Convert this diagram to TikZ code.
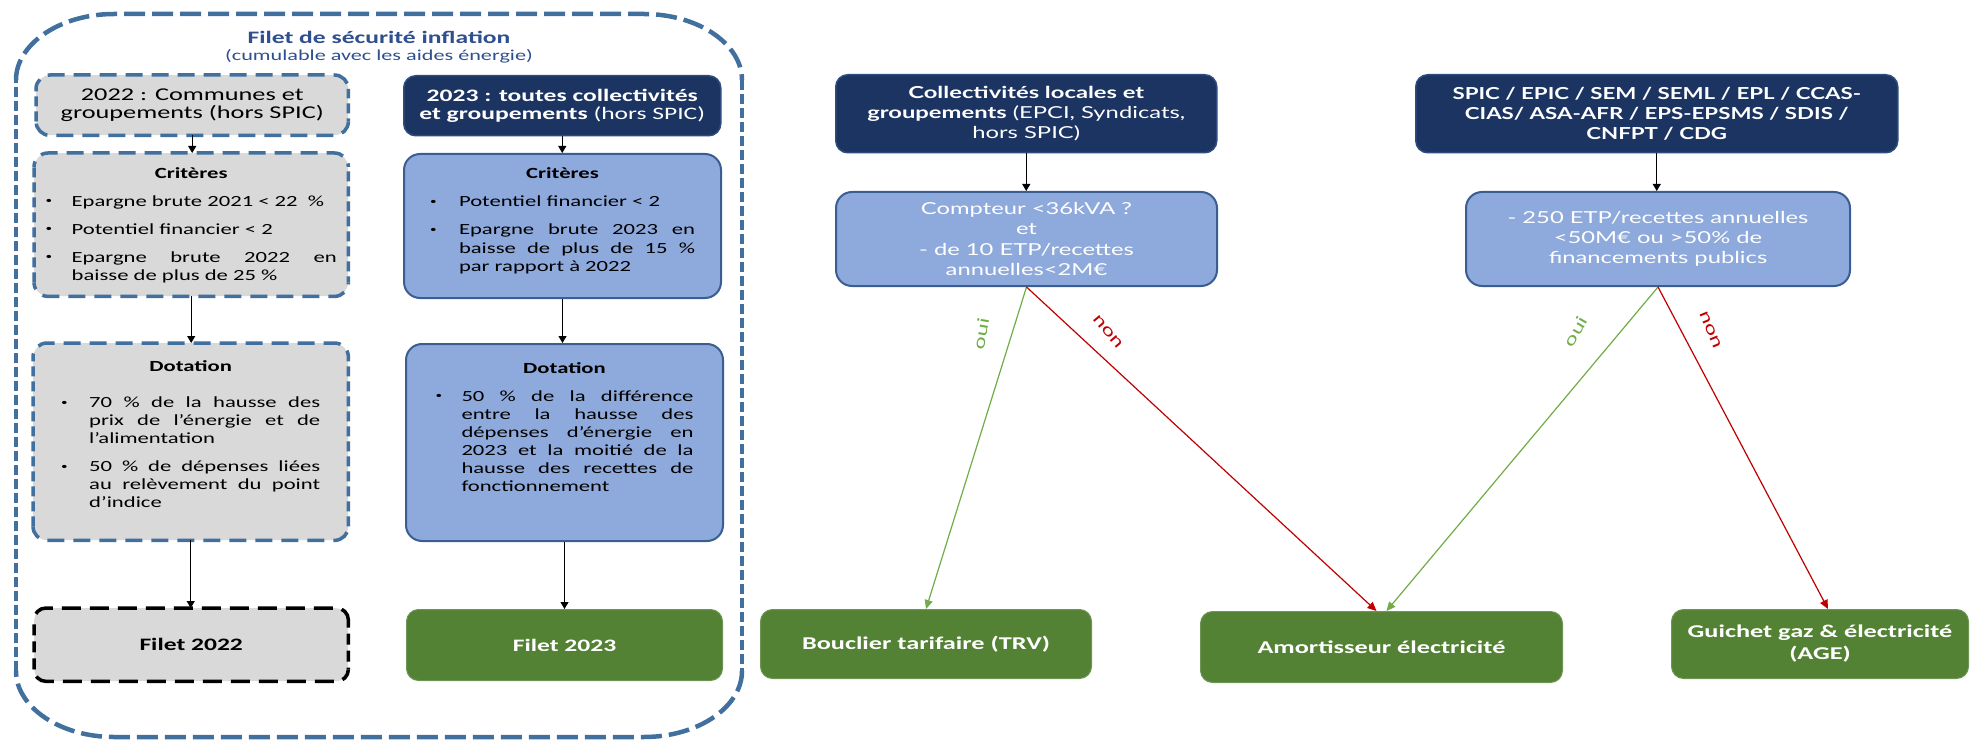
\documentclass[tikz,border=0pt]{standalone}
\usepackage{fontspec}
\setmainfont[FakeStretch=1.46]{Carlito}
\newfontfamily\mar[FakeStretch=1.44]{Lato}
\newfontfamily\marb[FakeStretch=1.35]{Lato}
\usetikzlibrary{arrows.meta}
\definecolor{navy}{HTML}{1C3461}
\definecolor{navyb}{HTML}{2E4C7C}
\definecolor{lblue}{HTML}{8EA9DB}
\definecolor{lblueb}{HTML}{3A5D92}
\definecolor{steel}{HTML}{41709E}
\definecolor{gfill}{HTML}{D9D9D9}
\definecolor{grn}{HTML}{548235}
\definecolor{ttl}{HTML}{2F4F8F}
\definecolor{ouig}{HTML}{70AD47}
\definecolor{nonr}{HTML}{C00000}
\newcommand\fs[2]{\fontsize{#1pt}{#2pt}\selectfont}
\newcommand\smbul{\raisebox{2.5pt}{\fs{9}{9}\textbullet}}
\newenvironment{blist}[2]{\begin{list}{\smbul\hfill}{\setlength\leftmargin{#1}\setlength\labelwidth{#1}\setlength\labelsep{0pt}\setlength\itemindent{0pt}\setlength\itemsep{#2}\setlength\parsep{0pt}\setlength\topsep{0pt}\setlength\partopsep{0pt}\setlength\rightmargin{0pt}}}{\end{list}}
% dashed frame round a node: horizontal and vertical sides with their own dash patterns
\newcommand\dframe[6]{%
 \begin{scope}
  \clip ([shift={(-6pt,6pt)}]#1.north west) rectangle ([shift={(6pt,-#6)}]#1.north east)
        ([shift={(-6pt,#6)}]#1.south west) rectangle ([shift={(6pt,-6pt)}]#1.south east);
  \draw[#2, line width=#3, dash pattern=#4, rounded corners=#6] (#1.south west) rectangle (#1.north east);
 \end{scope}
 \begin{scope}
  \clip ([shift={(-6pt,-#6)}]#1.north west) rectangle ([shift={(6pt,#6)}]#1.south west)
        ([shift={(-6pt,-#6)}]#1.north east) rectangle ([shift={(6pt,#6)}]#1.south east);
  \draw[#2, line width=#3, dash pattern=#5, rounded corners=#6] (#1.south west) rectangle (#1.north east);
 \end{scope}}
\begin{document}
\begin{tikzpicture}[x=1pt,y=-1pt,
  gbox/.style={fill=gfill, rounded corners=14pt, anchor=north west, inner sep=0pt},
  nbox/.style={draw=navyb, line width=1.5pt, fill=navy, rounded corners=12pt, anchor=north west, inner sep=0pt, text=white, align=center},
  bbox/.style={draw=lblueb, line width=2pt, fill=lblue, rounded corners=16pt, anchor=north west, inner sep=0pt},
  gnbox/.style={fill=grn, draw=grn!85!white, line width=1pt, rounded corners=12pt, anchor=north west, inner sep=0pt, text=white, align=center, font=\fs{18}{22}\bfseries},
  arr/.style={-{Triangle[length=7pt,width=8pt]}, line width=1.1pt, black},
  darr/.style={-{Triangle[length=9pt,width=8pt]}, line width=1.2pt},
  lbl/.style={font=\mar\fs{16}{18}},
  oframe/.style={steel, line width=4.5pt}
]
\fill[white] (0,0) rectangle (1972,743);
\useasboundingbox (0,0) rectangle (1972,743);

% outer dashed frame
\draw[oframe, dash pattern=on 21pt off 7pt]
  (16,80) .. controls (16,44) and (60,14) .. (114,14) -- (644,14) .. controls (698,14) and (742,44) .. (742,80);
\draw[oframe, dash pattern=on 21pt off 7pt]
  (742,671) .. controls (742,707) and (698,737) .. (644,737) -- (114,737) .. controls (60,737) and (16,707) .. (16,671);
\draw[oframe, dash pattern=on 10pt off 4pt] (742,80) -- (742,671);
\draw[oframe, dash pattern=on 10pt off 4pt] (16,671) -- (16,80);

\node[font=\fs{17.5}{21}\bfseries, text=ttl] (title) at (379,37) {Filet de sécurité inflation};
\node[font=\fs{15.2}{18}, text=ttl] (sub) at (379,56) {(cumulable avec les aides énergie)};

% 2022 column
\node[gbox, minimum width=312pt, minimum height=60pt, align=center, font=\fs{18}{18.5}] (h22) at (36,75) {2022 : Communes et\\groupements (hors SPIC)};
\node[gbox, inner xsep=11.5pt] (c22) at (34,153) {\parbox[c][143pt][t]{291pt}{\fs{15.5}{18.5}\vspace*{14pt}{\centering\textbf{Critères}\par}\vspace{9.5pt}\begin{blist}{26pt}{9.5pt}\item Epargne brute 2021 < 22~~\% \item Potentiel financier < 2 \item Epargne brute 2022 en\linebreak baisse de plus de 25~\%\end{blist}}};
\node[gbox, inner xsep=28pt] (d22) at (33,343) {\parbox[c][197pt][t]{259pt}{\fs{15.5}{18}\vspace*{17pt}{\centering\textbf{Dotation}\par}\vspace{18.5pt}\begin{blist}{28pt}{10pt}\item 70~\% de la hausse des\linebreak prix de l’énergie et de\linebreak l’alimentation \item 50~\% de dépenses liées\linebreak au relèvement du point\linebreak d’indice\end{blist}}};
\node[gbox, rounded corners=12pt, minimum width=314pt, minimum height=73pt, font=\fs{17.5}{21}\bfseries] (f22) at (34,608) {Filet 2022};
\dframe{h22}{steel}{3.5pt}{on 17pt off 9pt}{on 10pt off 5pt}{14pt}
\dframe{c22}{steel}{3.5pt}{on 17pt off 9pt}{on 10pt off 5pt}{14pt}
\dframe{d22}{steel}{3.5pt}{on 17pt off 9pt}{on 10pt off 5pt}{14pt}
\dframe{f22}{black}{3.5pt}{on 19pt off 9pt}{on 11pt off 6pt}{12pt}

% 2023 column
\node[nbox, minimum width=317pt, minimum height=60pt, font=\fs{17.5}{18.5}] (h23) at (403,75) {\textbf{2023 : toutes collectivités}\\\textbf{et groupements} (hors SPIC)};
\node[bbox, inner xsep=26pt] (c23) at (403,153) {\parbox[c][144pt][t]{265pt}{\fs{15.5}{18.5}\vspace*{14pt}{\centering\textbf{Critères}\par}\vspace{9.5pt}\begin{blist}{29pt}{9.5pt}\item Potentiel financier < 2 \item Epargne brute 2023 en\linebreak baisse de plus de 15~\%\linebreak par rapport à 2022\end{blist}}};
\node[bbox, inner xsep=29.5pt] (d23) at (405,343) {\parbox[c][197pt][t]{258pt}{\fs{15.5}{18}\vspace*{19pt}{\centering\textbf{Dotation}\par}\vspace{9.5pt}\begin{blist}{26pt}{10pt}\item 50~\% de la différence\linebreak entre la hausse des\linebreak dépenses d’énergie en\linebreak 2023 et la moitié de la\linebreak hausse des recettes de\linebreak fonctionnement\end{blist}}};
\node[gnbox, minimum width=316pt, minimum height=71pt, font=\fs{17.5}{21}\bfseries] (f23) at (406,609) {Filet 2023};

\draw[arr] (h22.south) -- (h22.south |- c22.north);
\draw[arr] (c22.south) -- (c22.south |- d22.north);
\draw[arr] (d22.south) -- (d22.south |- f22.north);
\draw[arr] (h23.south) -- (h23.south |- c23.north);
\draw[arr] (c23.south) -- (c23.south |- d23.north);
\draw[arr] (d23.south) -- (d23.south |- f23.north);

% right part
\node[nbox, minimum width=381pt, minimum height=78pt, font=\mar\fs{16.5}{20}] (col) at (835,74) {\textbf{Collectivités locales et}\\\textbf{groupements} (EPCI, Syndicats,\\hors SPIC)};
\node[bbox, minimum width=381pt, minimum height=94pt, text=white, align=center, font=\mar\fs{16.5}{20.3}] (cpt) at (835,191) {Compteur <36kVA ?\\et\\- de 10 ETP/recettes\\annuelles<2M€};
\node[nbox, minimum width=482pt, minimum height=78pt, font=\marb\fs{16.5}{20}\bfseries] (spic) at (1415,74) {SPIC / EPIC / SEM / SEML / EPL / CCAS-\\CIAS/ ASA-AFR / EPS-EPSMS / SDIS /\\CNFPT / CDG};
\node[bbox, minimum width=384pt, minimum height=94pt, text=white, align=center, font=\mar\fs{16.5}{20}] (etp) at (1465,191) {- 250 ETP/recettes annuelles\\<50M€ ou >50\% de\\financements publics};

\node[gnbox, minimum width=331pt, minimum height=69pt] (trv) at (760,609) {Bouclier tarifaire (TRV)};
\node[gnbox, minimum width=362pt, minimum height=71pt] (amo) at (1200,611) {Amortisseur électricité};
\node[gnbox, minimum width=297pt, minimum height=69pt] (age) at (1671,609) {Guichet gaz \& électricité\\(AGE)};

\draw[arr] (col.south) -- (col.south |- cpt.north);
\draw[arr] (spic.south) -- (spic.south |- etp.north);

\draw[darr, ouig] (cpt.south) -- (trv.north) coordinate[pos=0.145] (o1);
\draw[darr, nonr] (cpt.south) -- ([xshift=-5pt]amo.north) coordinate[pos=0.138] (n1);
\draw[darr, ouig] (etp.south) -- ([xshift=5pt]amo.north) coordinate[pos=0.138] (o2);
\draw[darr, nonr] (etp.south) -- ([xshift=8pt]age.north) coordinate[pos=0.133] (n2);

\node[lbl, text=ouig, rotate=80] (lo1) at ([xshift=-31pt]o1) {oui};
\node[lbl, text=nonr, rotate=-50] (ln1) at ([xshift=33pt]n1) {non};
\node[lbl, text=ouig, rotate=60] (lo2) at ([xshift=-45pt]o2) {oui};
\node[lbl, text=nonr, rotate=-68] (ln2) at ([xshift=30pt]n2) {non};
\end{tikzpicture}
\end{document}
